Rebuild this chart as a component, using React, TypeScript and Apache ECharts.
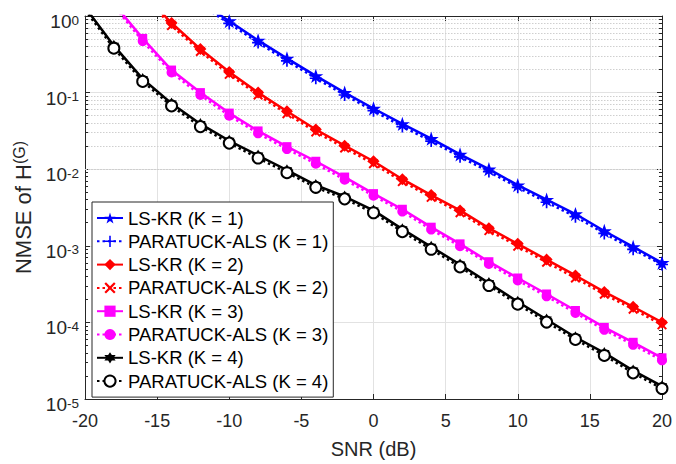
import React, { useEffect, useRef } from 'react';
import * as echarts from 'echarts';

const snr = [-20, -18, -16, -14, -12, -10, -8, -6, -4, -2, 0, 2, 4, 6, 8, 10, 12, 14, 16, 18, 20];

const lsK1 = [12, 7.5, 4.5, 2.6, 1.5, 0.86, 0.48, 0.28, 0.165, 0.1, 0.062, 0.039, 0.025, 0.0156, 0.01, 0.0062, 0.004, 0.0026, 0.00156, 0.00097, 0.0006];
const parK1 = [11, 7, 4.2, 2.4, 1.4, 0.8, 0.45, 0.26, 0.154, 0.093, 0.058, 0.036, 0.0233, 0.0145, 0.0093, 0.0058, 0.0037, 0.0024, 0.00145, 0.0009, 0.00057];
const lsK2 = [9, 4.5, 2.0, 0.81, 0.37, 0.186, 0.1, 0.057, 0.033, 0.0203, 0.0127, 0.0074, 0.0046, 0.0029, 0.0017, 0.00106, 0.00066, 0.00041, 0.00025, 0.00016, 0.0001];
const parK2 = [8.4, 4.2, 1.85, 0.75, 0.345, 0.173, 0.093, 0.053, 0.0307, 0.0189, 0.0118, 0.0069, 0.0043, 0.0027, 0.00158, 0.00099, 0.00061, 0.00038, 0.000233, 0.000149, 0.000093];
const lsK3 = [3.5, 1.45, 0.51, 0.197, 0.1, 0.054, 0.0316, 0.0197, 0.0127, 0.0079, 0.0048, 0.003, 0.00175, 0.00106, 0.00062, 0.00038, 0.000235, 0.000143, 0.000086, 0.000055, 0.0000345];
const parK3 = [3.2, 1.35, 0.47, 0.183, 0.093, 0.05, 0.0294, 0.0183, 0.0118, 0.0073, 0.0045, 0.0028, 0.00163, 0.00099, 0.00058, 0.000353, 0.000219, 0.000133, 0.00008, 0.000051, 0.000032];
const lsK4 = [1.3, 0.41, 0.151, 0.072, 0.039, 0.0235, 0.0151, 0.0097, 0.0062, 0.0044, 0.0029, 0.00165, 0.00097, 0.00057, 0.000326, 0.000186, 0.000109, 0.000064, 0.00004, 0.0000235, 0.0000147];
const parK4 = [1.2, 0.38, 0.14, 0.067, 0.036, 0.0219, 0.014, 0.009, 0.0058, 0.0041, 0.0027, 0.00153, 0.0009, 0.00053, 0.000303, 0.000173, 0.000101, 0.00006, 0.000037, 0.0000219, 0.0000137];

const seriesNames = [
  'LS-KR (K = 1)', 'PARATUCK-ALS (K = 1)',
  'LS-KR (K = 2)', 'PARATUCK-ALS (K = 2)',
  'LS-KR (K = 3)', 'PARATUCK-ALS (K = 3)',
  'LS-KR (K = 4)', 'PARATUCK-ALS (K = 4)',
];

const xMin = -20;
const xMax = 20;
const xInterval = 5;
const yDecades = [-5, -4, -3, -2, -1];
const minorMultipliers = [2, 3, 4, 5, 6, 7, 8, 9];

const FONT = '"Liberation Sans", Arial, Helvetica, sans-serif';
const AX = '#262626';

const STAR = 'path://M0,-1L0.2245,-0.309L0.951,-0.309L0.363,0.118L0.588,0.809L0,0.382L-0.588,0.809L-0.363,0.118L-0.951,-0.309L-0.2245,-0.309Z';
const HEX = 'path://M0,-1L0.2887,-0.5L0.866,-0.5L0.577,0L0.866,0.5L0.2887,0.5L0,1L-0.2887,0.5L-0.866,0.5L-0.577,0L-0.866,-0.5L-0.2887,-0.5Z';
const PLUS = 'path://M-0.14,-1L0.14,-1L0.14,-0.14L1,-0.14L1,0.14L0.14,0.14L0.14,1L-0.14,1L-0.14,0.14L-1,0.14L-1,-0.14L-0.14,-0.14Z';
const CROSS = 'path://M-0.72,-1L0,-0.28L0.72,-1L1,-0.72L0.28,0L1,0.72L0.72,1L0,0.28L-0.72,1L-1,0.72L-0.28,0L-1,-0.72Z';

export default function App() {
  const ref = useRef<HTMLDivElement>(null);

  useEffect(() => {
    if (!ref.current) return;
    const chart = echarts.init(ref.current, undefined, { renderer: 'svg' });

    const minorVals: number[] = [];
    yDecades.forEach((d) => minorMultipliers.forEach((m) => minorVals.push(m * Math.pow(10, d))));

    const mk = (name: string, vals: number[], color: string, dotted: boolean, symbol: string, size: number) => ({
      name,
      type: 'line',
      data: snr.map((x, i) => [x, vals[i]]),
      symbol,
      symbolSize: size,
      symbolKeepAspect: true,
      showSymbol: true,
      lineStyle: { color, width: 2.5, type: dotted ? [2.5, 3] : 'solid' },
      itemStyle: { color, borderColor: color, borderWidth: 0 },
      z: 5,
      clip: true,
    });

    const option: any = {
      animation: false,
      textStyle: { fontFamily: FONT },
      grid: { left: 85, right: 14, top: 16, bottom: 58, show: false },
      legend: {
        data: seriesNames,
        orient: 'vertical',
        left: 92,
        top: 202,
        itemWidth: 26,
        itemHeight: 14,
        itemGap: 3.3,
        padding: [6, 5, 6, 4],
        backgroundColor: '#ffffff',
        borderColor: AX,
        borderWidth: 1,
        borderRadius: 0,
        textStyle: { fontFamily: FONT, fontSize: 18.5, color: '#000', lineHeight: 20 },
      },
      xAxis: [
        {
          type: 'value',
          min: xMin,
          max: xMax,
          interval: xInterval,
          position: 'bottom',
          name: 'SNR (dB)',
          nameLocation: 'middle',
          nameGap: 40,
          nameTextStyle: { fontFamily: FONT, fontSize: 20, color: AX },
          axisLine: { show: true, onZero: false, lineStyle: { color: AX, width: 1 } },
          axisTick: { show: true, inside: true, length: 5, lineStyle: { color: AX } },
          axisLabel: { fontFamily: FONT, fontSize: 18, color: AX, margin: 13 },
          splitLine: { show: true, lineStyle: { color: '#e2e2e2', width: 1 } },
        },
        {
          type: 'value',
          min: xMin,
          max: xMax,
          interval: xInterval,
          position: 'top',
          axisLine: { show: true, onZero: false, lineStyle: { color: AX, width: 1 } },
          axisTick: { show: true, inside: true, length: 5, lineStyle: { color: AX } },
          axisLabel: { show: false },
          splitLine: { show: false },
        },
      ],
      yAxis: [
        {
          type: 'log',
          logBase: 10,
          min: 1e-5,
          max: 1,
          position: 'left',
          name: '{n|NMSE of H}{g|(G)}',
          nameLocation: 'middle',
          nameGap: 46,
          nameTextStyle: {
            fontFamily: FONT,
            color: AX,
            rich: {
              n: { fontFamily: FONT, fontSize: 22, color: AX, lineHeight: 24 },
              g: { fontFamily: FONT, fontSize: 16, color: AX, lineHeight: 8, verticalAlign: 'top' },
            },
          },
          axisLine: { show: true, onZero: false, lineStyle: { color: AX, width: 1 } },
          axisTick: { show: true, inside: true, length: 5, lineStyle: { color: AX } },
          axisLabel: {
            margin: 6,
            padding: [12, 0, 0, 0],
            formatter: (v: number) => `{b|10}{s|${Math.round(Math.log10(v))}}`,
            rich: {
              b: { fontFamily: FONT, fontSize: 19, color: AX, lineHeight: 18, verticalAlign: 'bottom' },
              s: { fontFamily: FONT, fontSize: 13.5, color: AX, lineHeight: 6, verticalAlign: 'top' },
            },
          },
          splitLine: { show: true, lineStyle: { color: '#e2e2e2', width: 1 } },
        },
        {
          type: 'log',
          logBase: 10,
          min: 1e-5,
          max: 1,
          position: 'right',
          axisLine: { show: true, onZero: false, lineStyle: { color: AX, width: 1 } },
          axisTick: { show: true, inside: true, length: 5, lineStyle: { color: AX } },
          axisLabel: { show: false },
          splitLine: { show: false },
        },
      ],
      series: [
        {
          name: 'minorGrid',
          type: 'line',
          data: [],
          z: 1,
          silent: true,
          markLine: {
            silent: true,
            symbol: ['none', 'none'],
            label: { show: false },
            lineStyle: { color: '#cfcfcf', width: 1, type: [1.5, 1.5] },
            data: minorVals.map((v) => ({ yAxis: v })),
          },
        },
        {
          name: 'minorTicks',
          type: 'line',
          data: [],
          z: 2,
          silent: true,
          markLine: {
            silent: true,
            symbol: ['none', 'none'],
            label: { show: false },
            lineStyle: { color: AX, width: 1, type: 'solid' },
            data: [
              ...minorVals.map((v) => [{ coord: [xMin, v] }, { coord: [xMin + 0.21, v] }]),
              ...minorVals.map((v) => [{ coord: [xMax, v] }, { coord: [xMax - 0.21, v] }]),
            ],
          },
        },
        mk(seriesNames[0], lsK1, '#0000ff', false, STAR, 15),
        mk(seriesNames[1], parK1, '#0000ff', true, PLUS, 12),
        mk(seriesNames[2], lsK2, '#ff0000', false, 'diamond', 12),
        mk(seriesNames[3], parK2, '#ff0000', true, CROSS, 10),
        mk(seriesNames[4], lsK3, '#ff00ff', false, 'rect', 9),
        mk(seriesNames[5], parK3, '#ff00ff', true, 'circle', 10),
        mk(seriesNames[6], lsK4, '#000000', false, HEX, 12),
        {
          ...mk(seriesNames[7], parK4, '#000000', true, 'emptyCircle', 11),
          itemStyle: { color: '#000000', borderColor: '#000000', borderWidth: 2.5 },
        },
      ],
    };

    chart.setOption(option);
    return () => chart.dispose();
  }, []);

  return (
    <div
      ref={ref}
      style={{ position: 'fixed', left: 0, top: 0, width: 676, height: 464, background: '#ffffff' }}
    />
  );
}
